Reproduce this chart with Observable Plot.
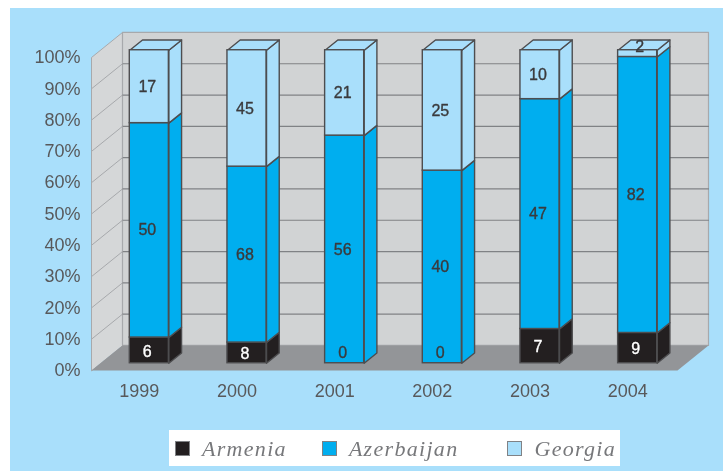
<!DOCTYPE html>
<html>
<head>
<meta charset="utf-8">
<script src="https://cdn.jsdelivr.net/npm/d3@7"></script>
<script src="https://cdn.jsdelivr.net/npm/@observablehq/plot@0.6"></script>
<style>
html,body{margin:0;padding:0;background:#fff;width:723px;height:471px;overflow:hidden}
#panel{position:absolute;left:10px;top:8px;width:713px;height:463px;background:#a9dffb}
#panel svg{display:block;background:transparent;filter:blur(.7px)}
#legend{position:absolute;left:159px;top:422px;width:451px;height:36px;background:#fff;filter:blur(.55px);
  display:flex;align-items:center;padding-left:6px;padding-top:1px;box-sizing:border-box;
  font:italic 22px "Liberation Serif",serif;letter-spacing:1.3px;color:#77787b}
#legend .sw{width:13px;height:13px;border:1px solid #808285;margin-right:12px;flex:none}
#legend .lb{margin-right:35px}
#legend .lb:nth-of-type(4){margin-right:49px}
</style>
</head>
<body>
<div id="panel"><div id="chart"></div><div id="legend"></div></div>
<script>
const years = ["1999", "2000", "2001", "2002", "2003", "2004"];
const countries = ["Armenia", "Azerbaijan", "Georgia"];
const colors = ["#231f20", "#00aeef", "#a9dffb"];
const armenia = [6, 8, 0, 0, 7, 9];
const azerbaijan = [50, 68, 56, 40, 47, 82];
const georgia = [17, 45, 21, 25, 10, 2];
const yTicks = [0, 10, 20, 30, 40, 50, 60, 70, 80, 90, 100];

// Oblique projection: one unit of depth moves along x (category units) and y (percent units).
const depthX = 31 / 97.67, depthY = 8;
const project = (c, p, d) => ({x: c + d * depthX, y: p + d * depthY});
const barFront = 0.29, barBack = 0.70, halfBar = 0.2;
const xMin = -0.5, xMax = 5.5;

const series = [armenia, azerbaijan, georgia];
const segments = [];
years.forEach((year, c) => {
  const total = series.reduce((s, a) => s + a[c], 0);
  let cum = 0;
  series.forEach((a, k) => {
    const p0 = cum / total * 100;
    cum += a[c];
    segments.push({c, year, series: countries[k], v: a[c], p0, p1: cum / total * 100});
  });
});
const visible = segments.filter(d => d.v > 0);

const poly = (id, extra, pts) => pts.map(([c, p, d]) => ({id, ...extra, ...project(c, p, d)}));

const leftWall = poly("left", {}, [[xMin, 0, 0], [xMin, 100, 0], [xMin, 100, 1], [xMin, 0, 1]]);
const backWall = poly("back", {}, [[xMin, 0, 1], [xMin, 100, 1], [xMax, 100, 1], [xMax, 0, 1]]);
const floor = poly("floor", {}, [[xMin, 0, 0], [xMax, 0, 0], [xMax, 0, 1], [xMin, 0, 1]]);
const inner = yTicks.filter(t => t > 0 && t < 100);
const backGrid = inner.flatMap(t => poly("g" + t, {}, [[xMin, t, 1], [xMax, t, 1]]));
const leftGrid = inner.flatMap(t => poly("l" + t, {}, [[xMin, t, 0], [xMin, t, 1]]));

const sides = visible.flatMap((s, i) => poly("s" + i, {series: s.series}, [
  [s.c + halfBar, s.p0, barFront], [s.c + halfBar, s.p1, barFront],
  [s.c + halfBar, s.p1, barBack], [s.c + halfBar, s.p0, barBack]
]));
const tops = years.flatMap((y, c) => poly("t" + c, {series: "Georgia"}, [
  [c - halfBar, 100, barFront], [c + halfBar, 100, barFront],
  [c + halfBar, 100, barBack], [c - halfBar, 100, barBack]
]));

const edge = "#4d4d4f";
const labelX = d => project(d.c, 0, barFront).x;
const labelY = d => (d.p0 + d.p1) / 2 + barFront * depthY;
const labelFont = {fontSize: 16, fontFamily: "Liberation Sans", text: "v", x: labelX, y: labelY, strokeWidth: 0.35};

const chart = Plot.plot({
  width: 713, height: 420,
  marginLeft: 81, marginRight: 46, marginTop: 49, marginBottom: 58,
  x: {domain: [xMin, xMax], label: null},
  y: {domain: [0, 100], label: null},
  color: {domain: countries, range: colors},
  style: {fontFamily: "Liberation Sans", background: "transparent"},
  marks: [
    Plot.line(leftWall, {x: "x", y: "y", curve: "linear-closed", fill: "#d5d7d8", stroke: "#a7a9ac", strokeWidth: 1}),
    Plot.line(backWall, {x: "x", y: "y", curve: "linear-closed", fill: "#d1d3d4", stroke: "#a7a9ac", strokeWidth: 1.2}),
    Plot.line(floor, {x: "x", y: "y", curve: "linear-closed", fill: "#939598"}),
    Plot.line(backGrid, {x: "x", y: "y", z: "id", stroke: "#808285", strokeWidth: 1.2}),
    Plot.line(leftGrid, {x: "x", y: "y", z: "id", stroke: "#a7a9ac", strokeWidth: 1}),
    Plot.line(sides, {x: "x", y: "y", z: "id", curve: "linear-closed", fill: "series", stroke: edge, strokeWidth: 1.4}),
    Plot.line(tops, {x: "x", y: "y", z: "id", curve: "linear-closed", fill: "series", stroke: edge, strokeWidth: 1.4}),
    Plot.rect(visible, {
      x1: d => project(d.c - halfBar, 0, barFront).x,
      x2: d => project(d.c + halfBar, 0, barFront).x,
      y1: d => project(0, d.p0, barFront).y,
      y2: d => project(0, d.p1, barFront).y,
      fill: "series", stroke: edge, strokeWidth: 1.4
    }),
    Plot.text(visible.filter(d => d.series !== "Armenia" && d.v > 2), {...labelFont, fill: "#3a3a3c", stroke: "#3a3a3c", dx: -2}),
    Plot.text(visible.filter(d => d.series === "Armenia"), {...labelFont, fill: "#ffffff", stroke: "#ffffff", dx: -2, dy: 1}),
    Plot.text(visible.filter(d => d.v > 0 && d.v <= 2), {...labelFont, fill: "#3a3a3c", stroke: "#3a3a3c", dy: -7, dx: 2}),
    Plot.text(segments.filter(d => d.v === 0), {...labelFont, fill: "#3a3a3c", stroke: "#3a3a3c", dy: -10, dx: -2}),
    Plot.axisY({ticks: yTicks, tickFormat: d => d + "%", tickSize: 0, tickPadding: 11, fontSize: 18, color: "#58595b", label: null}),
    Plot.axisX({ticks: years.map((y, i) => i), tickFormat: i => years[i], tickSize: 0, tickPadding: 14, fontSize: 18, color: "#58595b", label: null, dx: -1})
  ]
});
document.getElementById("chart").appendChild(chart);

const legend = document.getElementById("legend");
countries.forEach((name, i) => {
  const sw = document.createElement("span");
  sw.className = "sw";
  sw.style.background = colors[i];
  const lb = document.createElement("span");
  lb.className = "lb";
  lb.textContent = name;
  legend.append(sw, lb);
});
</script>
</body>
</html>
